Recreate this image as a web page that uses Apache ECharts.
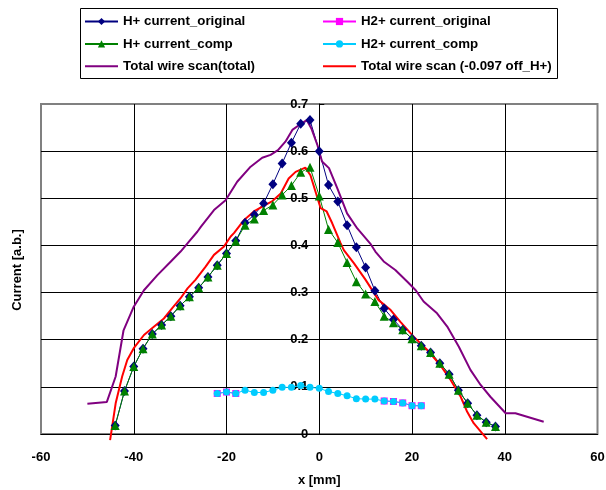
<!DOCTYPE html>
<html>
<head>
<meta charset="utf-8">
<script src="https://cdn.jsdelivr.net/npm/echarts@6/dist/echarts.min.js"></script>
<style>
  html, body { margin: 0; padding: 0; background: #fff; }
  #chart { width: 606px; height: 490px; }
</style>
</head>
<body>
<div id="chart"></div>
<script>
// posiciones de los puntos H+ (mm)
const xH = [-44, -42, -40, -38, -36, -34, -32, -30, -28, -26, -24, -22, -20, -18, -16, -14, -12, -10, -8, -6, -4, -2,
  0, 2, 4, 6, 8, 10, 12, 14, 16, 18, 20, 22, 24, 26, 28, 30, 32, 34, 36, 38];
const hOriginal = [0.018, 0.091, 0.143, 0.181, 0.212, 0.231, 0.250, 0.272, 0.291, 0.310, 0.333, 0.358, 0.383, 0.410,
  0.448, 0.465, 0.489, 0.530, 0.574, 0.618, 0.658, 0.666, 0.600, 0.528, 0.493, 0.443, 0.396, 0.353, 0.304, 0.266,
  0.243, 0.221, 0.202, 0.187, 0.173, 0.150, 0.127, 0.093, 0.065, 0.040, 0.025, 0.016];
const hComp = [0.018, 0.091, 0.143, 0.181, 0.212, 0.231, 0.250, 0.272, 0.291, 0.310, 0.333, 0.358, 0.383, 0.409,
  0.443, 0.456, 0.474, 0.486, 0.507, 0.527, 0.555, 0.566, 0.505, 0.434, 0.406, 0.364, 0.323, 0.297, 0.281, 0.250,
  0.236, 0.221, 0.202, 0.187, 0.173, 0.150, 0.127, 0.093, 0.065, 0.040, 0.025, 0.016];

// H2+
const xH2 = [-22, -20, -18, -16, -14, -12, -10, -8, -6, -4, -2, 0, 2, 4, 6, 8, 10, 12, 14, 16, 18, 20, 22];
const h2Original = [0.086, 0.089, 0.086, null, null, null, null, null, null, null, null, null, null, null, null, null,
  null, null, 0.070, 0.069, 0.066, 0.060, 0.060];
const h2Comp = [0.086, 0.089, 0.086, 0.093, 0.088, 0.088, 0.093, 0.099, 0.099, 0.103, 0.099, 0.097, 0.090, 0.086,
  0.081, 0.075, 0.074, 0.074, 0.070, 0.069, 0.066, 0.060, 0.060];

// wire scan total
const totalX = [-50, -45.8, -43.9, -42.2, -40, -37.8, -34.9, -32, -29.9, -28.1, -26.3, -25.5, -22.7, -20.2, -17.7,
  -14.8, -12.3, -10.5, -8.9, -7.3, -5.8, -4.4, -2.7, -1.7, -0.4, 0.6, 2.1, 3.9, 6, 8.2, 11, 12.1, 13.9, 16.4, 19,
  20.8, 22.5, 25.4, 27.6, 30.1, 32.6, 34.8, 36.9, 40.2, 42.3, 48.4];
const totalY = [0.064, 0.068, 0.122, 0.22, 0.27, 0.305, 0.337, 0.366, 0.387, 0.408, 0.429, 0.44, 0.475, 0.496, 0.535,
  0.567, 0.586, 0.592, 0.602, 0.62, 0.645, 0.655, 0.666, 0.648, 0.613, 0.578, 0.564, 0.521, 0.468, 0.436, 0.404,
  0.387, 0.366, 0.348, 0.323, 0.305, 0.281, 0.256, 0.228, 0.185, 0.136, 0.104, 0.079, 0.044, 0.044, 0.026];

// wire scan con offset -0.097
const offX = [-45.1, -43.9, -42.5, -41.4, -40, -37.8, -35.6, -33.5, -31.7, -29.9, -28.4, -26.7, -24.5, -22.7, -20.6,
  -19.1, -18.4, -16.2, -14.1, -11.6, -10.1, -8.3, -6.6, -5.1, -3, -1.9, -0.8, 0.3, 1.6, 2.8, 4.6, 5.3, 7.5, 10,
  12.8, 15.4, 17.5, 20.4, 23.3, 26.1, 28.3, 30.5, 31.9, 33.3, 35.1, 36.2];
const offY = [-0.013, 0.065, 0.122, 0.157, 0.182, 0.21, 0.228, 0.245, 0.267, 0.288, 0.309, 0.327, 0.355, 0.38, 0.397,
  0.419, 0.426, 0.454, 0.472, 0.486, 0.494, 0.51, 0.542, 0.556, 0.565, 0.549, 0.514, 0.479, 0.472, 0.447, 0.405,
  0.39, 0.362, 0.327, 0.284, 0.263, 0.238, 0.206, 0.178, 0.146, 0.115, 0.079, 0.047, 0.023, 0.002, -0.011];

const zip = (xs, ys) => xs.map((x, i) => [x, ys[i]]);

const font = 'Liberation Sans, Arial, sans-serif';
const txt = { fontFamily: font, fontWeight: 'bold', fontSize: 13, color: '#000' };
const legendTxt = { fontFamily: font, fontWeight: 'bold', fontSize: 13.3, color: '#000' };

// dimensiones del area de trazado
const gridLeft = 41, gridRight = 8.5;
const plotWidth = 606 - gridLeft - gridRight;

const chart = echarts.init(document.getElementById('chart'));

// las lineas de wire scan no llevan marcador en la leyenda
const noMarker = { opacity: 0 };

const option = {
  animation: false,
  grid: {
    left: gridLeft, right: gridRight, top: 104, bottom: 56,
    outerBoundsMode: 'none',
    show: true, borderColor: '#808080', borderWidth: 2
  },
  legend: [
    {
      orient: 'vertical', left: 79, top: 10,
      itemWidth: 33, itemHeight: 9, itemGap: 9.4,
      textStyle: legendTxt,
      data: ['H+ current_original', 'H+ current_comp', { name: 'Total wire scan(total)', itemStyle: noMarker }]
    },
    {
      orient: 'vertical', left: 317, top: 10,
      itemWidth: 33, itemHeight: 9, itemGap: 9.4,
      textStyle: legendTxt,
      data: ['H2+ current_original', 'H2+ current_comp', { name: 'Total wire scan (-0.097 off_H+)', itemStyle: noMarker }]
    }
  ],
  graphic: [
    {
      type: 'rect', silent: true,
      shape: { x: 80.5, y: 8.5, width: 477, height: 70 },
      style: { fill: 'none', stroke: '#000', lineWidth: 1 }
    },
    {
      type: 'text', silent: true, x: 17, y: 270, rotation: Math.PI / 2,
      style: {
        text: 'Current [a.b.]', font: 'bold 13px ' + font, fill: '#000',
        textAlign: 'center', textVerticalAlign: 'middle'
      }
    }
  ],
  xAxis: {
    type: 'value', min: -60, max: 60, interval: 20,
    name: 'x [mm]', nameLocation: 'middle', nameGap: 40,
    nameTextStyle: txt,
    axisLine: { onZero: false, lineStyle: { color: '#000', width: 1 } },
    axisTick: { show: false },
    axisLabel: Object.assign({ margin: 17 }, txt),
    splitLine: { show: true, showMinLine: false, showMaxLine: false, lineStyle: { color: '#000', width: 1 } }
  },
  yAxis: {
    type: 'value', min: 0, max: 0.7, interval: 0.1,
    // el eje Y cruza en x = 0
    offset: -plotWidth / 2,
    axisLine: { show: true, onZero: false, lineStyle: { color: '#000', width: 1 } },
    axisTick: { show: true, inside: true, length: 5, lineStyle: { color: '#000' } },
    axisLabel: Object.assign({ margin: 11 }, txt),
    splitLine: { show: true, showMaxLine: false, lineStyle: { color: '#000', width: 1 } }
  },
  series: [
    {
      name: 'H+ current_original', type: 'line', data: zip(xH, hOriginal),
      symbol: 'diamond', symbolSize: [9, 10],
      itemStyle: { color: '#000080' }, lineStyle: { color: '#000080', width: 1 }
    },
    {
      name: 'H2+ current_original', type: 'line', data: zip(xH2, h2Original),
      symbol: 'rect', symbolSize: 7,
      itemStyle: { color: '#FF00FF' }, lineStyle: { color: '#FF00FF', width: 1 }
    },
    {
      name: 'H+ current_comp', type: 'line', data: zip(xH, hComp),
      symbol: 'triangle', symbolSize: 9,
      itemStyle: { color: '#008000' }, lineStyle: { color: '#008000', width: 1 }
    },
    {
      name: 'H2+ current_comp', type: 'line', data: zip(xH2, h2Comp),
      symbol: 'circle', symbolSize: 7,
      itemStyle: { color: '#00CCFF' }, lineStyle: { color: '#00CCFF', width: 1 }
    },
    {
      name: 'Total wire scan(total)', type: 'line', data: zip(totalX, totalY),
      symbol: 'none', lineStyle: { color: '#800080', width: 2 }, itemStyle: { color: '#800080' }
    },
    {
      name: 'Total wire scan (-0.097 off_H+)', type: 'line', data: zip(offX, offY),
      symbol: 'none', clip: false, lineStyle: { color: '#FF0000', width: 2 }, itemStyle: { color: '#FF0000' }
    }
  ]
};

chart.setOption(option);
</script>
</body>
</html>
